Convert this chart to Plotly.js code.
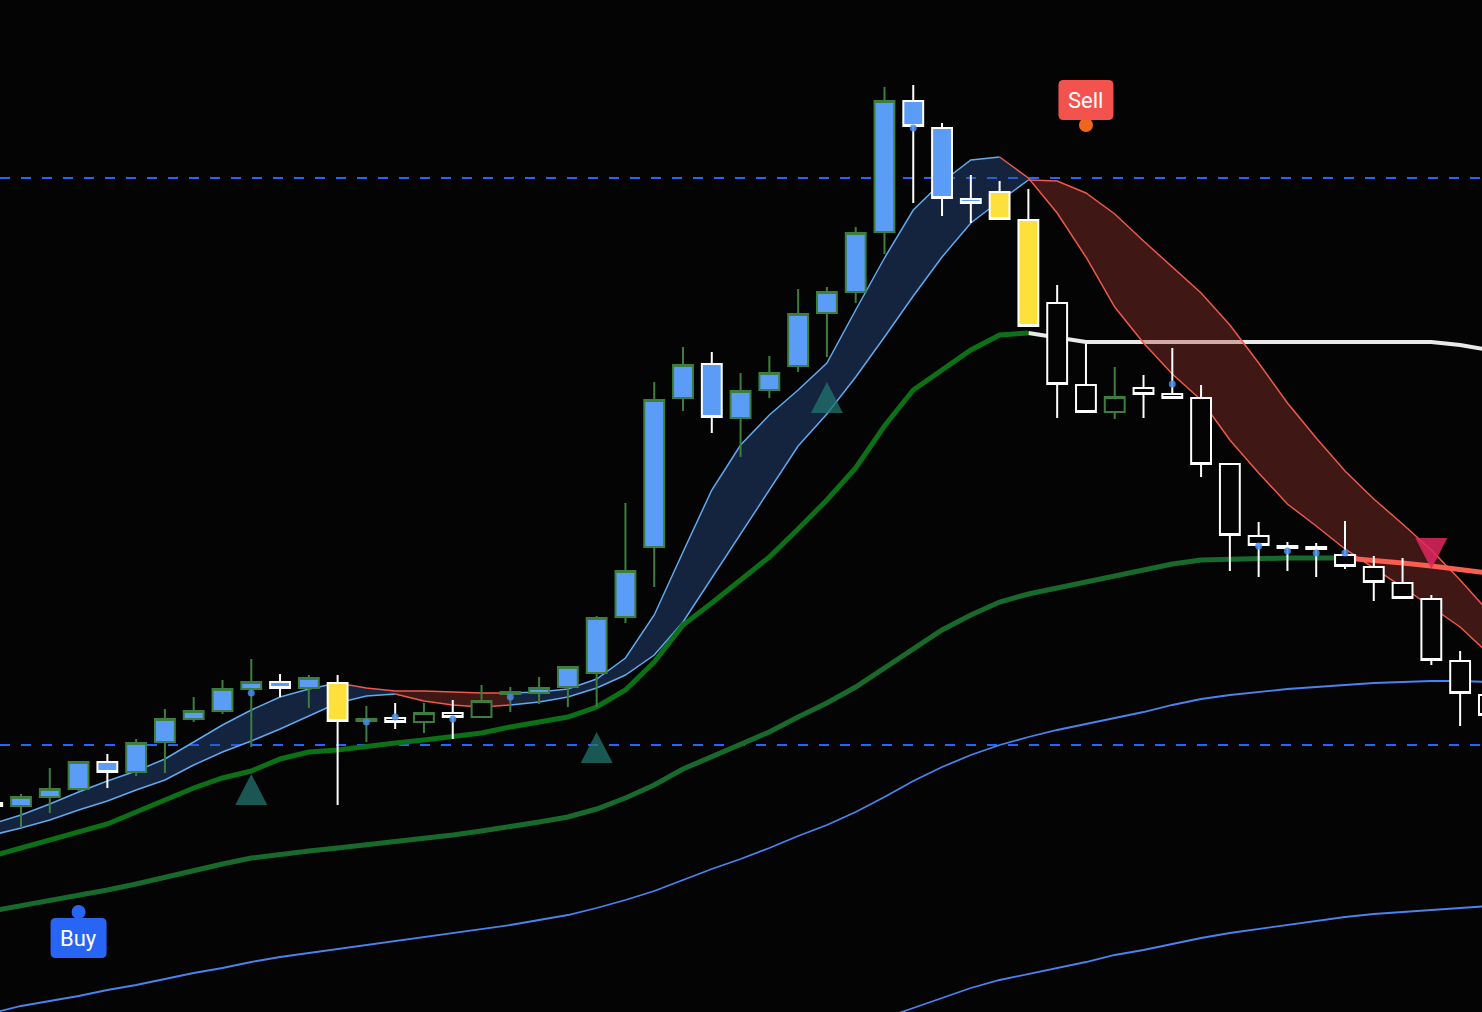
<!DOCTYPE html>
<html>
<head>
<meta charset="utf-8">
<script src="https://cdn.plot.ly/plotly-3.0.1.min.js"></script>
<style>
html,body{margin:0;padding:0;background:#040404;overflow:hidden}
#chart{width:1482px;height:1012px}
</style>
</head>
<body>
<div id="chart"></div>
<script>
// ---------- DATA (price units) ----------
const barIndex = [-1,0,1,2,3,4,5,6,7,8,9,10,11,12,13,14,15,16,17,18,19,20,21,22,23,24,25,26,27,28,29,30,31,32,33,34,35,36,37,38,39,40,41,42,43,44,45,46,47,48,49,50,51];

const openPrice  = [209,206,215,223,250,240,270,293,301,323,330,324,329,291,294,290,299,295,318,319,325,339,395,465,614,648,594,622,646,699,720,780,911,884,813,820,792,709,627,600,624,618,614,548,476,466,465,457,445,429,413,351,317];
const highPrice  = [210,218,244,251,258,273,303,315,332,353,338,337,337,306,309,309,312,327,325,335,346,396,509,630,665,660,639,656,723,725,785,925,927,889,837,831,823,727,668,645,637,664,627,549,490,470,469,491,456,454,417,361,322];
const lowPrice   = [204,184,199,221,224,236,239,290,298,265,315,304,207,270,283,279,273,295,300,308,305,305,389,425,601,579,555,614,640,655,709,758,809,796,789,793,686,594,600,593,594,613,535,441,435,441,435,443,411,414,347,286,287];
const closePrice = [206,215,223,250,240,269,293,301,323,330,324,334,291,293,290,299,295,311,320,324,345,394,441,612,647,595,621,639,698,720,779,911,886,814,809,793,686,628,600,615,618,614,548,477,467,464,463,446,430,414,352,319,297];

// trend state of each bar (colours the candle bodies)
const trendState = ['bull','bull','bull','bull','bull','bull','bull','bull','bull','bull','bull','bull',
  'warn',
  'bear','bear','bear','bear','bear','bear',
  'bull','bull','bull','bull','bull','bull','bull','bull','bull','bull','bull','bull','bull','bull','bull','bull',
  'warn','warn',
  'bear','bear','bear','bear','bear','bear','bear','bear','bear','bear','bear','bear','bear','bear','bear','bear'];

// ribbon (fast / slow averages)
const fastLine = [188,197,208,220,231,241,253,270,287,302,315,323,
  329,324,321,321,320,319,319,320,323,333,
  354,397,460,522,567,597,622,649,702,754,
  802,830,852,855,834,799,755,705,669,638,
  612,572,539,508,486,463,444,425,405,385,358];
const slowLine = [177,184,192,202,211,222,232,247,260,271,283,296,
  309,316,318,311,307,305,307,310,315,324,
  337,357,390,434,477,522,566,598,635,675,
  716,755,789,811,832,831,819,798,771,745,
  719,687,649,609,574,541,513,488,462,432,400];

// thick trailing line (green, then white) and slow trend line (green, then red)
const trailLine = [156,164,172,180,188,200,212,224,234,241,253,260,
  262,266,269,272,275,279,285,290,295,305,
  322,350,387,409,432,455,483,512,544,586,
  622,642,662,677,679,674,670,670,670,670,
  670,670,670,670,670,670,670,670,670,667,662];
const slowTrend = [101,106,111,116,122,128,135,142,148,154,158,161,
  164,167,170,173,177,181,185,190,195,203,
  214,227,243,255,267,280,295,309,325,344,
  364,382,397,410,418,424,430,436,442,448,
  452,453,454,454,454,454,452,449,446,443,439];

// long moving averages (thin blue)
const longMa1 = [-1,6,11,16,22,27,33,39,44,50,55,59,
  63,67,71,75,79,83,87,92,97,104,
  112,121,132,143,153,164,176,187,200,215,
  231,245,257,267,275,282,288,294,300,307,
  313,317,320,323,325,327,329,330,331,331,330];
const longMa2 = [null,null,null,null,null,null,null,null,null,null,null,null,
  null,null,null,null,null,null,null,null,null,null,
  null,null,null,null,null,null,null,null,-18,-6,
  4,14,24,32,38,44,50,57,62,68,
  74,79,83,87,91,95,98,100,102,104,106];

// segments where each line / ribbon is bullish or bearish
const ribbonFillSeg = [[-1,13,'bull'],[13,17,'bear'],[17,35,'bull'],[35,51,'bear']];
const fastLineSeg   = [[-1,11,'bull'],[11,17,'bear'],[17,34,'bull'],[34,51,'bear']];
const slowLineSeg   = [[-1,13,'bull'],[13,17,'bear'],[17,35,'bull'],[35,51,'bear']];
const trailSeg      = [[-1,35,'bull'],[35,51,'flat']];
const slowTrendSeg  = [[-1,46,'bull'],[46,51,'bear']];

// small signal dots on bars
const dotBar   = [8,12,13,15,17,31,40,43,44,45,46];
const dotPrice = [319,290,295,293,315,884,628,466,461,459,459];

// triangle signals
const upSignalBar = [8,20,28];
const upSignalPrice = [222,264,614];
const downSignalBar = [49];
const downSignalPrice = [459];

// labelled signals
const buyBar = 2, buyLabelPrice = 74, buyDotPrice = 100;
const sellBar = 37, sellLabelPrice = 912, sellDotPrice = 887;

// horizontal levels
const levels = [834, 267];

// ---------- BUILD ----------
const BG = '#040404';
function seg(arr, a, b) {
  const xs = [], ys = [];
  barIndex.forEach((bi, k) => {
    if (bi >= a && bi <= b && arr[k] !== null) { xs.push(bi); ys.push(arr[k]); }
  });
  return {x: xs, y: ys};
}
const traces = [];
function line(arr, a, b, color, width) {
  const s = seg(arr, a, b);
  traces.push({type:'scatter', mode:'lines', x:s.x, y:s.y, line:{color:color, width:width},
    hoverinfo:'skip', showlegend:false});
}

// long MAs
line(longMa1, -1, 51, '#4a83ef', 1.8);
line(longMa2, -1, 51, '#4a83ef', 1.8);
// white part of trailing line (under the ribbon fill)
trailSeg.filter(s => s[2] === 'flat').forEach(s => line(trailLine, s[0], s[1], '#e9e9e9', 4));

// ribbon fill
const ribbonFillColor = {bull:'rgba(45,85,150,0.40)', bear:'rgba(170,58,50,0.36)'};
ribbonFillSeg.forEach(s => {
  const q = seg(slowLine, s[0], s[1]);
  const p = seg(fastLine, s[0], s[1]);
  traces.push({type:'scatter', mode:'lines', x:q.x, y:q.y, line:{width:0}, hoverinfo:'skip', showlegend:false});
  traces.push({type:'scatter', mode:'lines', x:p.x, y:p.y, line:{width:0}, fill:'tonexty',
    fillcolor:ribbonFillColor[s[2]], hoverinfo:'skip', showlegend:false});
});
const ribbonLineColor = {bull:'#62a9ee', bear:'#ee594b'};
fastLineSeg.forEach(s => line(fastLine, s[0], s[1], ribbonLineColor[s[2]], 1.5));
slowLineSeg.forEach(s => line(slowLine, s[0], s[1], ribbonLineColor[s[2]], 1.5));

// green trailing line
trailSeg.filter(s => s[2] === 'bull').forEach(s => line(trailLine, s[0], s[1], '#0c7016', 5));
// slow trend
const slowTrendColor = {bull:'#176a2b', bear:'#fb5e4f'};
slowTrendSeg.forEach(s => line(slowTrend, s[0], s[1], slowTrendColor[s[2]], 5));

// candles (overlay subplot so they sit on top of the lines)
const bodyColor = {bull:'#5b9cf6', warn:'#fde03a', bear:BG};
['bull','warn','bear'].forEach(st => {
  const ks = barIndex.map((_, k) => k).filter(k => trendState[k] === st);
  traces.push({
    type:'candlestick', xaxis:'x2', yaxis:'y2',
    x: ks.map(k => barIndex[k]),
    open: ks.map(k => openPrice[k]),
    high: ks.map(k => highPrice[k]),
    low: ks.map(k => lowPrice[k]),
    close: ks.map(k => closePrice[k]),
    increasing:{line:{color:'#3d7d3d', width:2}, fillcolor:bodyColor[st]},
    decreasing:{line:{color:'#ffffff', width:2}, fillcolor:bodyColor[st]},
    whiskerwidth:0, hoverinfo:'skip', showlegend:false
  });
});
// signal dots
traces.push({type:'scatter', mode:'markers', xaxis:'x2', yaxis:'y2', x:dotBar, y:dotPrice,
  marker:{color:'rgba(70,140,235,0.85)', size:7}, hoverinfo:'skip', showlegend:false});

// ---------- SHAPES ----------
const shapes = [];
levels.forEach(v => shapes.push({type:'line', xref:'paper', x0:0, x1:1, yref:'y', y0:v, y1:v,
  line:{color:'#2962ff', width:2, dash:'10px,11px'}, layer:'below'}));

function pixShape(type, bx, by, extra) {
  return Object.assign({type:type, xref:'x', yref:'y', xsizemode:'pixel', ysizemode:'pixel',
    xanchor:bx, yanchor:by, layer:'above'}, extra);
}
upSignalBar.forEach((b, k) => shapes.push(pixShape('path', b, upSignalPrice[k],
  {path:'M-16,-15 L16,-15 L0,16 Z', fillcolor:'rgba(34,118,112,0.72)', line:{width:0}})));
downSignalBar.forEach((b, k) => shapes.push(pixShape('path', b, downSignalPrice[k],
  {path:'M-16,15 L16,15 L0,-16 Z', fillcolor:'rgba(225,40,95,0.85)', line:{width:0}})));

function roundRect(hw, hh, r) {
  return `M${-hw+r},${hh} L${hw-r},${hh} Q${hw},${hh} ${hw},${hh-r} L${hw},${-hh+r} Q${hw},${-hh} ${hw-r},${-hh} ` +
         `L${-hw+r},${-hh} Q${-hw},${-hh} ${-hw},${-hh+r} L${-hw},${hh-r} Q${-hw},${hh} ${-hw+r},${hh} Z`;
}
// sell label
shapes.push(pixShape('circle', sellBar, sellDotPrice, {x0:-7, x1:7, y0:-7, y1:7, fillcolor:'#f0661c', line:{width:0}}));
shapes.push(pixShape('path', sellBar, sellLabelPrice, {path:roundRect(27.5, 20, 5), fillcolor:'#f3524d', line:{width:0}}));
// buy label
shapes.push(pixShape('circle', buyBar, buyDotPrice, {x0:-7, x1:7, y0:-7, y1:7, fillcolor:'#2865f5', line:{width:0}}));
shapes.push(pixShape('path', buyBar, buyLabelPrice, {path:roundRect(28, 20, 5), fillcolor:'#2865f5', line:{width:0}}));

const annotations = [
  {x:sellBar, y:sellLabelPrice, xref:'x', yref:'y', text:'Sell', showarrow:false,
   font:{family:'Roboto, "Noto Sans", sans-serif', size:22, color:'#ffffff'}},
  {x:buyBar, y:buyLabelPrice, xref:'x', yref:'y', text:'Buy', showarrow:false,
   font:{family:'Roboto, "Noto Sans", sans-serif', size:22, color:'#ffffff'}}
];

const xr = [-0.73, 50.76], yr = [0, 1012];
const layout = {
  width:1482, height:1012,
  margin:{l:0, r:0, t:0, b:0, pad:0},
  paper_bgcolor:BG, plot_bgcolor:BG,
  showlegend:false, hovermode:false, dragmode:false,
  boxgap:0, boxgroupgap:0.31,
  xaxis:{range:xr, visible:false, fixedrange:true, rangeslider:{visible:false}},
  yaxis:{range:yr, visible:false, fixedrange:true},
  xaxis2:{range:xr, visible:false, fixedrange:true, overlaying:'x', anchor:'y2', rangeslider:{visible:false}},
  yaxis2:{range:yr, visible:false, fixedrange:true, overlaying:'y', anchor:'x2'},
  shapes:shapes,
  annotations:annotations
};
Plotly.newPlot('chart', traces, layout, {displayModeBar:false, staticPlot:true});
</script>
</body>
</html>
